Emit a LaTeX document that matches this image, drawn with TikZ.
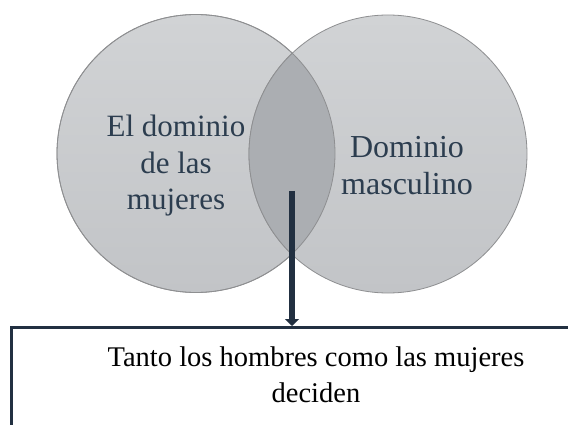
\documentclass[tikz,border=0pt]{standalone}
\usepackage{fontspec}
\setmainfont{Liberation Serif}
\usetikzlibrary{arrows.meta}
\definecolor{circfillA}{HTML}{D1D3D5}
\definecolor{circfillB}{HTML}{C2C4C7}
\definecolor{lensfill}{HTML}{ABAEB2}
\definecolor{circline}{HTML}{8E8F91}
\definecolor{navy}{HTML}{223041}
\definecolor{slate}{HTML}{2C3D4F}
\tikzset{
  venn/.style={draw=circline, line width=0.8pt, top color=circfillA, bottom color=circfillB, circle, minimum size=278pt, inner sep=0pt},
  venntext/.style={text=slate, align=center},
  outbox/.style={draw=navy, line width=3pt, anchor=north west, minimum width=580pt, minimum height=130pt, inner sep=0pt},
  boxtext/.style={text=black, font=\fontsize{28.5}{36}\selectfont, align=center},
  bigarrow/.style={draw=navy, line width=6pt, -{Triangle[width=14pt,length=7pt]}}
}
\begin{document}
\begin{tikzpicture}[x=1pt,y=-1pt]
\useasboundingbox (0,0) rectangle (568,425);
\clip (0,0) rectangle (568,425);
\fill[white] (0,0) rectangle (568,425);
\node[venn] (left) at (196,153.5) {};
\node[venn] (right) at (388,154) {};
\begin{scope}
  \clip (196,153.5) circle (139pt);
  \fill[lensfill, draw=circline, line width=0.8pt] (388,154) circle (139pt);
\end{scope}
\draw[circline, line width=0.8pt] (196,153.5) circle (139pt);
\node[venntext, font=\fontsize{31}{36.5}\selectfont] (ltext) at (176,166) {El dominio\\de las\\mujeres};
\node[venntext, font=\fontsize{32}{37}\selectfont] (rtext) at (407,166) {Dominio\\masculino};
\node[outbox] (box) at (10,326) {};
\node[boxtext] (btext) at (316,375) {Tanto los hombres como las mujeres\\deciden};
\coordinate (astart) at (292,191);
\draw[bigarrow] (astart) -- (astart |- box.north);
\end{tikzpicture}
\end{document}
